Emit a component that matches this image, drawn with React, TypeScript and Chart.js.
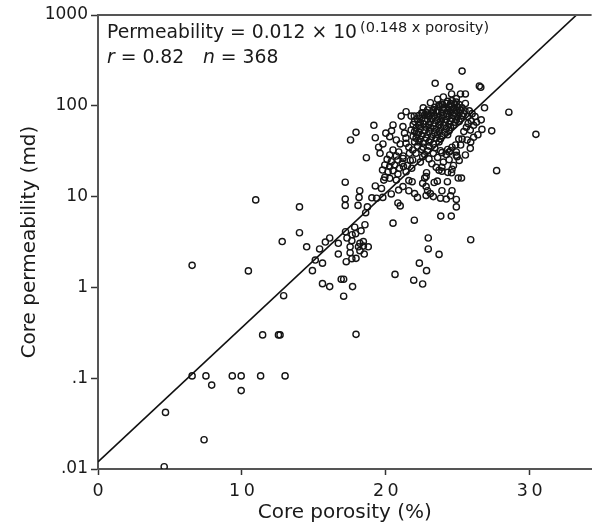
import React, { useEffect, useRef } from "react";
import { Chart, registerables } from "chart.js";

Chart.register(...registerables);

// ---- data: [porosity %, permeability md] ----
const lowPoints: number[][] = [
  [10.96, 9.2], [14.0, 7.7], [14.0, 4.0], [12.8, 3.2], [14.5, 2.8], [15.4, 2.65], [15.8, 3.16], [16.1, 3.5],
  [15.1, 2.0], [15.6, 1.85], [14.9, 1.53], [15.6, 1.1], [16.1, 1.02], [6.54, 1.75], [10.45, 1.52], [12.9, 0.81],
  [11.44, 0.3], [12.54, 0.3], [12.65, 0.3], [6.54, 0.106], [7.5, 0.106], [7.9, 0.084], [9.33, 0.106], [9.95, 0.106],
  [9.95, 0.073], [11.3, 0.106], [13.0, 0.106], [4.69, 0.042], [7.37, 0.021], [4.6, 0.0106],
];

const transitionPoints: number[][] = [
  [17.18, 14.4], [17.18, 9.4], [17.18, 8.0], [18.19, 11.6], [18.14, 9.8], [18.07, 8.0], [18.72, 7.7], [18.6, 6.65],
  [19.27, 13.1], [19.03, 9.7], [19.36, 9.6], [19.79, 9.8], [19.7, 12.3], [18.55, 4.9], [17.84, 4.6], [18.28, 4.2],
  [17.2, 4.1], [17.66, 3.8], [17.9, 3.9], [16.7, 3.06], [17.3, 3.5], [17.64, 3.27], [17.52, 2.8], [18.2, 3.06],
  [18.44, 3.2], [18.1, 2.8], [18.44, 2.85], [18.78, 2.8], [18.2, 2.54], [18.5, 2.33], [17.52, 2.41], [16.7, 2.33],
  [17.93, 2.09], [17.64, 2.07], [17.25, 1.92], [16.9, 1.23], [17.07, 1.23], [17.69, 1.02], [17.07, 0.8], [17.93, 0.304],
  [17.93, 51], [17.55, 42], [19.17, 61], [19.27, 44.5], [18.65, 26.8],
];

const midClusterPoints: number[][] = [
  [20.5, 32.6], [20.27, 28.7], [20.73, 28], [20.09, 25.7], [20.38, 24.2], [20.84, 25.3], [21.19, 26.3], [19.93, 22.3],
  [20.27, 21.4], [20.61, 22.3], [20.95, 20.5], [21.23, 21.4], [19.77, 19.6], [20.16, 18.8], [20.5, 19.3], [20.84, 17.7],
  [19.93, 16.3], [20.27, 15.9], [19.86, 15.2], [20.73, 15.2], [21.14, 23.3], [21.41, 18.8],
  [21.41, 86], [21.07, 77], [21.76, 77], [21.98, 77], [20.5, 61.5], [20.27, 45.7], [20.73, 42], [21.3, 50],
  [21.41, 38.6], [21.76, 54], [21.87, 32.6], [21.64, 30], [22.1, 30], [21.19, 59], [22.56, 83], [22.9, 81],
  [21.87, 25.3], [22.56, 27.5],
  [21.5, 22], [21.8, 20.5], [21.2, 28], [21.6, 35], [21.0, 38], [20.9, 31], [21.4, 44], [21.9, 46], [22.0, 40], [21.7, 25],
  [19.8, 38], [20.0, 50], [19.6, 30], [20.4, 53], [19.5, 35],
];

const upperRightPoints: number[][] = [
  [25.3, 241], [23.43, 177], [24.43, 162], [26.6, 160], [26.5, 165], [24.57, 135], [25.19, 135], [25.53, 135],
  [23.7, 102], [23.93, 102], [24.5, 106], [25.53, 106], [26.86, 95], [28.55, 85], [30.43, 48.5], [27.36, 53],
  [26.68, 55], [26.2, 76], [26.63, 70], [25.94, 68], [25.72, 64], [26.1, 61], [25.87, 54], [25.42, 52],
  [25.65, 42], [25.3, 43], [25.07, 43], [24.85, 37], [25.2, 37], [25.87, 34], [25.53, 28.7], [24.96, 27.5],
  [24.5, 32], [24.4, 31], [23.8, 32], [23.9, 30.5], [27.7, 19.3], [24.6, 20], [24.3, 18.5], [23.9, 19],
  [25.8, 88], [26.0, 82], [25.7, 76], [26.3, 66], [25.6, 58], [26.4, 48], [25.9, 40], [26.1, 45],
  [22.6, 95], [23.1, 108], [23.6, 118], [24.0, 125], [24.9, 120], [23.3, 88],
];

const lowerRightPoints: number[][] = [
  [22.83, 18.3], [24.57, 18.3], [25.03, 16], [25.26, 16], [21.83, 14.6], [22.56, 14], [22.7, 16], [23.36, 14.3],
  [23.58, 14.8], [24.28, 14.6], [21.6, 11.6], [22.0, 10.8], [22.2, 9.8], [22.9, 11.6], [23.1, 10.8], [22.8, 10.3],
  [23.3, 10], [23.8, 9.6], [23.9, 11.6], [24.2, 9.4], [24.5, 10.2], [24.6, 11.6], [24.9, 9.3], [24.9, 7.7],
  [20.38, 10.7], [20.84, 8.5], [21.0, 7.9], [20.5, 5.1], [21.98, 5.5], [23.82, 6.1], [24.55, 6.1], [22.95, 3.5],
  [25.9, 3.35], [22.95, 2.65], [23.7, 2.31], [22.33, 1.85], [22.83, 1.53], [20.64, 1.39], [21.94, 1.2], [22.56, 1.09],
  [20.89, 11.8], [21.19, 12.9], [22.8, 16.6], [22.8, 12.9], [21.6, 15], [23.5, 21], [23.7, 19.5], [23.9, 21],
  [24.4, 25.5], [24.9, 28.5], [24.3, 33], [24.6, 35], [24.9, 31],
  [22.7, 29], [23.0, 26], [23.3, 30], [23.6, 27], [24.0, 24], [24.2, 29], [23.2, 23], [22.4, 24], [24.7, 22], [25.1, 25],
];

const denseCorePoints: number[][] = [
  [24.3, 112], [24.6, 114], [24.9, 110],
  [23.9, 104], [24.2, 106], [24.5, 102], [24.8, 105], [25.1, 103],
  [23.4, 96], [23.7, 98], [24.0, 95], [24.4, 97], [24.7, 94], [25.0, 97], [25.3, 95],
  [22.9, 90], [23.3, 91], [23.6, 89], [24.0, 90], [24.3, 88], [24.6, 91], [24.9, 89], [25.2, 90], [25.5, 88],
  [22.5, 84], [22.8, 85], [23.2, 83], [23.5, 85], [23.9, 84], [24.2, 82], [24.5, 85], [24.8, 83], [25.1, 84], [25.4, 82],
  [22.3, 78], [22.7, 79], [23.0, 77], [23.4, 78], [23.7, 76], [24.0, 79], [24.4, 77], [24.7, 78], [25.0, 76], [25.3, 78],
  [22.2, 72], [22.5, 73], [22.9, 71], [23.2, 72], [23.6, 70], [23.9, 73], [24.2, 71], [24.6, 72], [24.9, 70], [25.2, 72],
  [22.0, 67], [22.4, 66], [22.7, 68], [23.1, 67], [23.4, 65], [23.8, 67], [24.1, 66], [24.5, 68], [24.8, 66], [25.1, 67],
  [21.9, 62], [22.3, 61], [22.6, 63], [23.0, 62], [23.3, 60], [23.7, 62], [24.0, 61], [24.4, 63], [24.7, 61],
  [22.1, 57], [22.4, 56], [22.8, 58], [23.1, 57], [23.5, 55], [23.8, 57], [24.2, 56], [24.5, 58],
  [22.0, 52], [22.3, 51], [22.7, 53], [23.0, 52], [23.4, 50], [23.7, 52], [24.1, 51], [24.4, 53],
  [22.2, 48], [22.5, 47], [22.9, 48], [23.2, 46], [23.6, 48], [23.9, 47], [24.3, 48],
  [22.1, 44], [22.4, 43], [22.8, 44], [23.1, 42], [23.5, 44], [23.8, 43],
  [22.3, 40], [22.6, 39], [23.0, 40], [23.3, 38], [23.7, 40],
  [22.2, 36], [22.6, 35], [23.0, 36], [23.4, 34.5],
  [22.5, 33], [22.9, 32],
];

// ---- regression: Permeability = 0.012 x 10^(0.148 x porosity) ----
const fitCoefficient = 0.012;
const fitExponent = 0.148;
const fitRange = [0, 34.3];

// ---- axes ----
const xTicks = [0, 10, 20, 30];
const xTickLabels = ["0", "1\u20090", "2\u20090", "3\u20090"];
const yTicks = [0.01, 0.1, 1, 10, 100, 1000];
const yTickLabels = [".01", ".1", "1", "10", "100", "1000"];

const FONT = '"DejaVu Sans", "Liberation Sans", Arial, sans-serif';

const allPoints = [
  ...lowPoints,
  ...transitionPoints,
  ...midClusterPoints,
  ...upperRightPoints,
  ...lowerRightPoints,
  ...denseCorePoints,
].map(([x, y]) => ({ x, y }));

const fitLine = fitRange.map((x) => ({ x, y: fitCoefficient * Math.pow(10, fitExponent * x) }));

const overlayPlugin = {
  id: "overlay",
  afterDraw(chart: any) {
    const { ctx, chartArea } = chart;
    ctx.save();
    // top frame line
    ctx.strokeStyle = "#555";
    ctx.lineWidth = 2;
    ctx.beginPath();
    ctx.moveTo(chartArea.left - 1, chartArea.top);
    ctx.lineTo(chartArea.right, chartArea.top);
    ctx.stroke();

    ctx.fillStyle = "#1a1a1a";
    ctx.textBaseline = "alphabetic";
    ctx.textAlign = "left";
    const x0 = 107;
    const base1 = 37.5;
    const base2 = 63;
    ctx.font = `18.8px ${FONT}`;
    const t1 = "Permeability = 0.012 \u00d7 10";
    ctx.fillText(t1, x0, base1);
    const w1 = ctx.measureText(t1).width;
    ctx.font = `14.5px ${FONT}`;
    ctx.fillText("(0.148 x porosity)", x0 + w1 + 3, base1 - 6);

    let x = x0;
    ctx.font = `italic 18.8px ${FONT}`;
    ctx.fillText("r", x, base2);
    x += ctx.measureText("r").width;
    ctx.font = `18.8px ${FONT}`;
    ctx.fillText(" = 0.82", x, base2);
    x = 203;
    ctx.font = `italic 18.8px ${FONT}`;
    ctx.fillText("n", x, base2);
    x += ctx.measureText("n").width;
    ctx.font = `18.8px ${FONT}`;
    ctx.fillText(" = 368", x, base2);
    ctx.restore();
  },
};

export default function App() {
  const canvasRef = useRef<HTMLCanvasElement | null>(null);

  useEffect(() => {
    if (!canvasRef.current) return;
    const chart = new Chart(canvasRef.current, {
      type: "scatter",
      data: {
        datasets: [
          {
            type: "line",
            data: fitLine,
            borderColor: "#111",
            borderWidth: 1.6,
            pointRadius: 0,
            fill: false,
            tension: 0,
          } as any,
          {
            type: "scatter",
            data: allPoints,
            pointRadius: 3.1,
            pointBorderWidth: 1.4,
            borderColor: "#151515",
            backgroundColor: "rgba(255,255,255,0)",
            pointStyle: "circle",
          } as any,
        ],
      },
      options: {
        animation: false,
        responsive: false,
        devicePixelRatio: 1,
        layout: { padding: { top: 15, left: 0, right: 0, bottom: 0 } },
        plugins: {
          legend: { display: false },
          tooltip: { enabled: false },
        },
        scales: {
          x: {
            type: "linear",
            min: 0,
            max: fitRange[1],
            afterBuildTicks: (scale: any) => {
              scale.ticks = xTicks.map((v) => ({ value: v }));
            },
            afterFit: (scale: any) => {
              scale.height = 62;
            },
            ticks: {
              callback: (_v: any, i: number) => xTickLabels[i],
              font: { family: FONT, size: 17.5 },
              color: "#1a1a1a",
              padding: 6,
              maxRotation: 0,
              autoSkip: false,
            },
            grid: {
              display: true,
              drawOnChartArea: false,
              drawTicks: true,
              tickLength: 6,
              tickColor: "#333",
              tickWidth: 1.5,
            },
            border: { display: true, color: "#555", width: 2 },
            title: {
              display: true,
              text: "Core porosity (%)",
              font: { family: FONT, size: 20 },
              color: "#1a1a1a",
              padding: { top: 0, bottom: 6 },
            },
          },
          y: {
            type: "logarithmic",
            min: 0.01,
            max: 1000,
            afterBuildTicks: (scale: any) => {
              scale.ticks = yTicks.map((v) => ({ value: v }));
            },
            afterFit: (scale: any) => {
              scale.width = 98;
            },
            ticks: {
              callback: (_v: any, i: number) => yTickLabels[i],
              font: { family: FONT, size: 17 },
              color: "#1a1a1a",
              padding: 3,
              autoSkip: false,
            },
            grid: {
              display: true,
              drawOnChartArea: false,
              drawTicks: true,
              tickLength: 7,
              tickColor: "#333",
              tickWidth: 1.5,
            },
            border: { display: true, color: "#555", width: 2 },
            title: {
              display: true,
              text: "Core permeability (md)",
              font: { family: FONT, size: 20 },
              color: "#1a1a1a",
              padding: { top: 18, bottom: 0 },
            },
          },
        },
      },
      plugins: [overlayPlugin],
    });
    return () => chart.destroy();
  }, []);

  return (
    <div style={{ position: "absolute", left: 0, top: 0, width: 597, height: 531, background: "#fff" }}>
      <canvas ref={canvasRef} width={597} height={531} style={{ display: "block" }} />
    </div>
  );
}
